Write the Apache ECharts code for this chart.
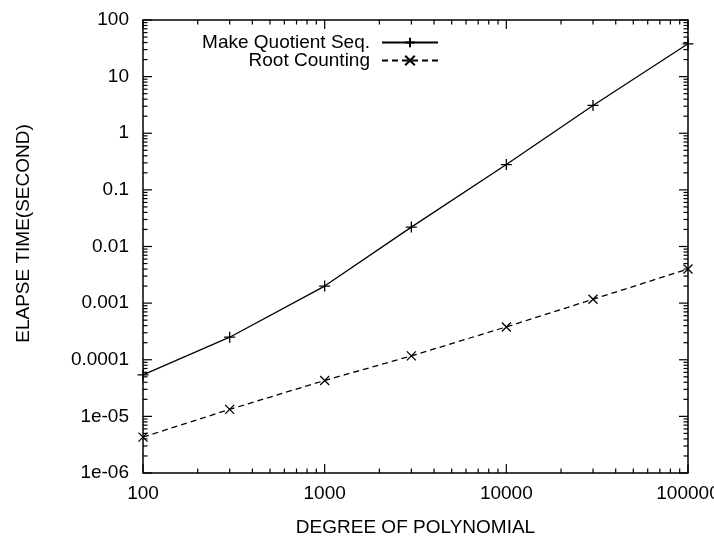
<!DOCTYPE html>
<html>
<head>
<meta charset="utf-8">
<script src="https://cdn.jsdelivr.net/npm/echarts@6/dist/echarts.min.js"></script>
<style>
  html, body { margin: 0; padding: 0; background: #fff; }
  #chart { width: 714px; height: 540px; }
</style>
</head>
<body>
<div id="chart"></div>
<script>
// Polynomial degree (x) and elapsed time in seconds (y) for each method
const degrees = [100, 300, 1000, 3000, 10000, 30000, 100000];
const quotientSeqTimes = [5.4e-5, 2.5e-4, 2.0e-3, 2.2e-2, 0.28, 3.1, 38];
const rootCountingTimes = [4.3e-6, 1.33e-5, 4.3e-5, 1.17e-4, 3.8e-4, 1.17e-3, 4.0e-3];

const seriesNames = ['Make Quotient Seq.', 'Root Counting'];

// Decade ticks and their labels
const xMajorTicks = [100, 1000, 10000, 100000];
const xTickLabels = ['100', '1000', '10000', '100000'];
const yMajorTicks = [1e-6, 1e-5, 1e-4, 1e-3, 1e-2, 1e-1, 1, 10, 100];
const yTickLabels = ['1e-06', '1e-05', '0.0001', '0.001', '0.01', '0.1', '1', '10', '100'];

// Minor ticks at 2..9 within each decade
function minorTicks(majors) {
  const out = [];
  for (let i = 0; i < majors.length - 1; i++) {
    for (let k = 2; k <= 9; k++) out.push(+(majors[i] * k).toPrecision(6));
  }
  return out;
}
const xMinorTicks = minorTicks(xMajorTicks);
const yMinorTicks = minorTicks(yMajorTicks);

const X_MIN = xMajorTicks[0], X_MAX = xMajorTicks[xMajorTicks.length - 1];
const Y_MIN = yMajorTicks[0], Y_MAX = yMajorTicks[yMajorTicks.length - 1];

const FONT = '"Liberation Sans", Arial, Helvetica, sans-serif';
const INK = '#000';
const MAJOR_LEN = 9, MINOR_LEN = 4.5, TICK_W = 1.2;

function labelFor(values, labels) {
  return function (v) {
    const n = Number(v);
    for (let i = 0; i < values.length; i++) {
      if (Math.abs(Math.log10(n) - Math.log10(values[i])) < 1e-6) return labels[i];
    }
    return String(v);
  };
}

const plusSymbol = 'path://M0,5L10,5M5,0L5,10';
const crossSymbol = 'path://M0,0L10,10M10,0L0,10';

function zip(xs, ys) { return xs.map((x, i) => [x, ys[i]]); }

// Inward frame ticks: thin rect markers anchored on the frame edges,
// shifted inward by half their length.
function tickMarks(points, size, offset) {
  return {
    type: 'scatter', z: 4, clip: false,
    data: points,
    symbol: 'rect', symbolSize: size, symbolOffset: offset,
    itemStyle: { color: INK, opacity: 1 }
  };
}
function xTicks(values, len) {
  return [
    tickMarks(values.map(v => [v, Y_MIN]), [TICK_W, len], [0, -len / 2]),
    tickMarks(values.map(v => [v, Y_MAX]), [TICK_W, len], [0, len / 2])
  ];
}
function yTicks(values, len) {
  return [
    tickMarks(values.map(v => [X_MIN, v]), [len, TICK_W], [len / 2, 0]),
    tickMarks(values.map(v => [X_MAX, v]), [len, TICK_W], [-len / 2, 0])
  ];
}

const chart = echarts.init(document.getElementById('chart'), null, { renderer: 'canvas' });

const legendCommon = {
  orient: 'vertical', align: 'right', itemWidth: 56, itemHeight: 12, selectedMode: false,
  textStyle: { color: INK, fontFamily: FONT, fontSize: 19, padding: [0, 7, 0, 0] }
};

chart.setOption({
  backgroundColor: '#fff',
  animation: false,
  grid: {
    left: 143, right: 26, top: 20, bottom: 67,
    containLabel: false, outerBoundsMode: 'none',
    show: true, borderColor: INK, borderWidth: 1.5, backgroundColor: 'transparent'
  },
  xAxis: {
    type: 'log', min: X_MIN, max: X_MAX,
    axisLine: { show: false },
    axisTick: { show: false },
    splitLine: { show: false },
    axisLabel: {
      customValues: xMajorTicks, margin: 11,
      color: INK, fontFamily: FONT, fontSize: 19,
      formatter: labelFor(xMajorTicks, xTickLabels)
    },
    name: 'DEGREE OF POLYNOMIAL', nameLocation: 'middle', nameGap: 45,
    nameTextStyle: { color: INK, fontFamily: FONT, fontSize: 19 }
  },
  yAxis: {
    type: 'log', min: Y_MIN, max: Y_MAX,
    axisLine: { show: false },
    axisTick: { show: false },
    splitLine: { show: false },
    axisLabel: {
      customValues: yMajorTicks, margin: 14,
      color: INK, fontFamily: FONT, fontSize: 19,
      formatter: labelFor(yMajorTicks, yTickLabels)
    },
    name: 'ELAPSE TIME(SECOND)', nameLocation: 'middle', nameGap: 110,
    nameTextStyle: { color: INK, fontFamily: FONT, fontSize: 19, padding: [0, 0, 0, 26] }
  },
  legend: [
    Object.assign({ data: [seriesNames[0]], right: 270, top: 28 }, legendCommon),
    Object.assign({ data: [seriesNames[1]], right: 270, top: 46 }, legendCommon)
  ],
  series: [].concat(
    xTicks(xMajorTicks, MAJOR_LEN),
    xTicks(xMinorTicks, MINOR_LEN),
    yTicks(yMajorTicks, MAJOR_LEN),
    yTicks(yMinorTicks, MINOR_LEN),
    [
      {
        name: seriesNames[0], type: 'line',
        data: zip(degrees, quotientSeqTimes),
        symbol: plusSymbol, symbolSize: 11, clip: false, z: 3,
        lineStyle: { color: INK, width: 1.3, type: 'solid' },
        itemStyle: { color: INK, borderColor: INK, borderWidth: 1.3 }
      },
      {
        name: seriesNames[1], type: 'line',
        data: zip(degrees, rootCountingTimes),
        symbol: crossSymbol, symbolSize: 9, clip: false, z: 3,
        lineStyle: { color: INK, width: 1.3, type: [6, 4] },
        itemStyle: { color: INK, borderColor: INK, borderWidth: 1.3 }
      }
    ]
  )
});
</script>
</body>
</html>
